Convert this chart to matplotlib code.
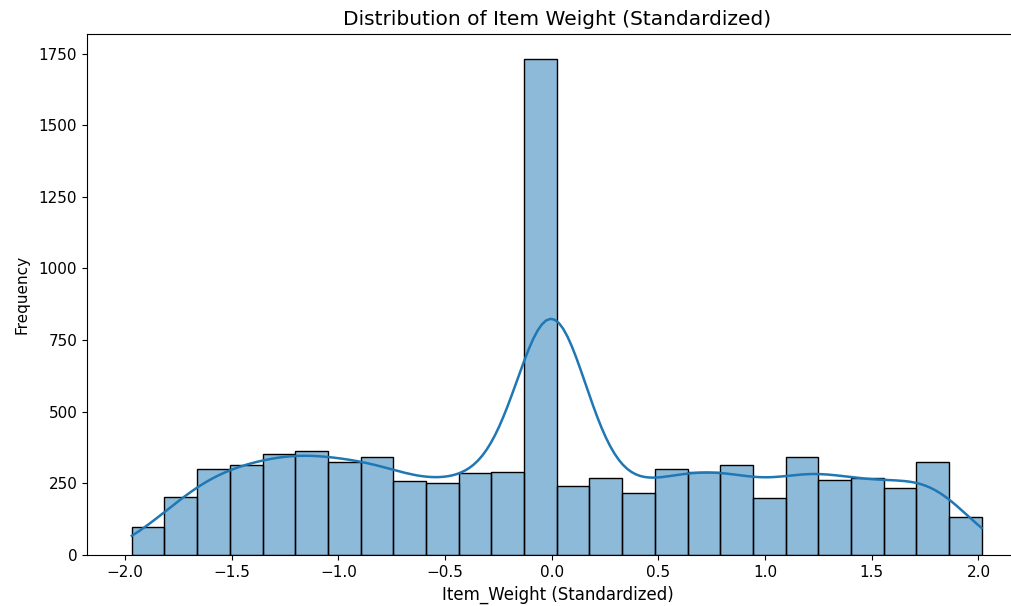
import numpy as np
import matplotlib
matplotlib.use('Agg')
import matplotlib.pyplot as plt
import seaborn as sns

# histogram layout
bin_lo, bin_hi, n_bins = -1.968, 2.015, 26

# counts per bin (spike bin without the imputed values)
counts = [96, 203, 299, 315, 352, 364, 324, 341, 258, 251, 286, 289, 268,
          242, 270, 215, 301, 288, 314, 199, 341, 263, 270, 234, 325, 131]
# missing weights filled with the mean -> 0 after standardizing
imputed_value = 0.0
imputed_count = 1463

edges = np.linspace(bin_lo, bin_hi, n_bins + 1)
centers = (edges[:-1] + edges[1:]) / 2
values = np.concatenate([np.repeat(centers, counts),
                         np.full(imputed_count, imputed_value)])

fig = plt.figure(figsize=(10.11, 6.06), dpi=100)
# the axes run a bit past the right edge of the picture
ax = fig.add_axes([87 / 1011, 51 / 606, 941 / 1011, 521.5 / 606])
sns.histplot(values, bins=n_bins, binrange=(bin_lo, bin_hi), kde=True,
             kde_kws={'cut': 3, 'clip': (bin_lo, bin_hi), 'bw_adjust': 0.97},
             line_kws={'linewidth': 1.8}, edgecolor='black', ax=ax)
ax.set_title('Distribution of Item Weight (Standardized)', fontsize=14.5)
ax.set_xlabel('Item_Weight (Standardized)', fontsize=12)
ax.set_ylabel('Frequency', fontsize=11, labelpad=7)
ax.tick_params(labelsize=11)
ax.set_xlim(-2.178, 2.232)
ax.set_ylim(0, 1820)

fig.savefig('out.png', dpi=100)
